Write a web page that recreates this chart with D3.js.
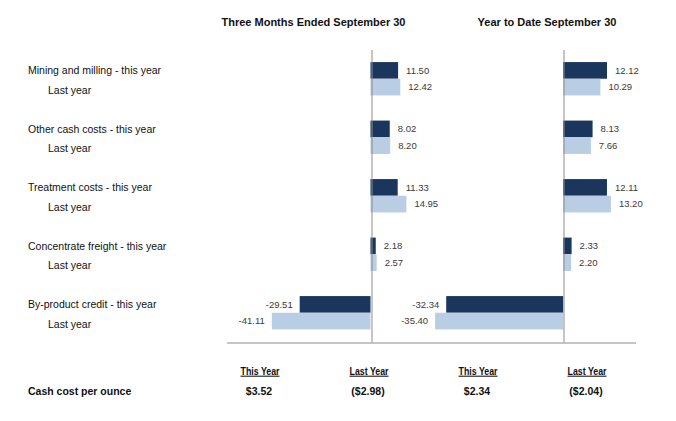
<!DOCTYPE html>
<html>
<head>
<meta charset="utf-8">
<script src="https://cdn.jsdelivr.net/npm/d3@7"></script>
<style>
  html, body { margin: 0; padding: 0; background: #ffffff; }
  svg { display: block; font-family: "Liberation Sans", Arial, sans-serif; }
</style>
</head>
<body>
<div id="chart"></div>
<script>
// Cash cost per ounce breakdown, two side-by-side bar panels

// Data
const categories = ["Mining and milling", "Other cash costs", "Treatment costs", "Concentrate freight", "By-product credit"]
const qtrThisYear = [11.50, 8.02, 11.33, 2.18, -29.51]
const qtrLastYear = [12.42, 8.20, 14.95, 2.57, -41.11]
const ytdThisYear = [12.12, 8.13, 12.11, 2.33, -32.34]
const ytdLastYear = [10.29, 7.66, 13.20, 2.20, -35.40]
const panelTitles = ["Three Months Ended September 30", "Year to Date September 30"]
const summaryHeaders = ["This Year", "Last Year", "This Year", "Last Year"]
const summaryValues = ["$3.52", "($2.98)", "$2.34", "($2.04)"]
const summaryLabel = "Cash cost per ounce"

// Configuration
const CONFIG = {
  width: 676,
  height: 421,
  plotTop: 49.5,
  plotBottom: 342,
  colors: {
    thisYear: "#1b365d",
    lastYear: "#b9cde5",
    axis: "#8c8c8c",
    text: "#111111",
    value: "#3a3a3a"
  }
}

const svg = d3.select("#chart")
  .append("svg")
  .attr("width", CONFIG.width)
  .attr("height", CONFIG.height)

// Shared category scale
const yScale = d3.scaleBand()
  .domain(categories)
  .range([CONFIG.plotTop, CONFIG.plotBottom])
  .paddingInner(0.43)
  .paddingOuter(0.215)

const subScale = d3.scaleBand()
  .domain(["this", "last"])
  .range([0, yScale.bandwidth()])

// Panels: each has its own value scale
const panels = [
  { title: panelTitles[0], thisYear: qtrThisYear, lastYear: qtrLastYear,
    x: d3.scaleLinear().domain([-60, 20]).range([226.5, 418.5]), titleX: 313.5 },
  { title: panelTitles[1], thisYear: ytdThisYear, lastYear: ytdLastYear,
    x: d3.scaleLinear().domain([-40, 20]).range([418.5, 635.5]), titleX: 547 }
]

// plain hyphen for negatives, as in the source
const fmt = d3.formatLocale({ decimal: ".", thousands: ",", grouping: [3], currency: ["$", ""], minus: "-" }).format(".2f")

panels.forEach(p => {
  const g = svg.append("g")
  const rows = categories.flatMap((c, i) => [
    { cat: c, key: "this", value: p.thisYear[i] },
    { cat: c, key: "last", value: p.lastYear[i] }
  ])

  // Bars
  g.selectAll("rect")
    .data(rows)
    .join("rect")
    .attr("x", d => p.x(Math.min(0, d.value)))
    .attr("y", d => yScale(d.cat) + subScale(d.key))
    .attr("width", d => Math.abs(p.x(d.value) - p.x(0)))
    .attr("height", subScale.bandwidth())
    .attr("fill", d => d.key === "this" ? CONFIG.colors.thisYear : CONFIG.colors.lastYear)

  // Value labels
  g.selectAll("text.value")
    .data(rows)
    .join("text")
    .attr("class", "value")
    .attr("x", d => d.value >= 0 ? p.x(d.value) + 8 : p.x(d.value) - 7)
    .attr("y", d => yScale(d.cat) + subScale(d.key) + subScale.bandwidth() / 2)
    .attr("dy", "0.35em")
    .attr("text-anchor", d => d.value >= 0 ? "start" : "end")
    .attr("fill", CONFIG.colors.value)
    .style("font-size", "9.5px")
    .text(d => fmt(d.value))

  // Category axis line at zero
  const yAxis = g.append("g")
    .attr("transform", `translate(${Math.round(p.x(0)) + 0.5},0)`)
    .call(d3.axisLeft(yScale).tickSize(0).tickFormat(""))
  yAxis.select(".domain").attr("stroke", CONFIG.colors.axis)

  // Value axis line at the bottom, no ticks
  const xAxis = g.append("g")
    .attr("transform", `translate(0,${CONFIG.plotBottom + 0.5})`)
    .call(d3.axisBottom(p.x).ticks(0).tickSizeOuter(0).tickFormat(""))
  xAxis.select(".domain").attr("stroke", CONFIG.colors.axis)

  // Panel title
  svg.append("text")
    .attr("x", p.titleX)
    .attr("y", 22)
    .attr("dy", "0.35em")
    .attr("text-anchor", "middle")
    .attr("fill", CONFIG.colors.text)
    .style("font-size", "11px")
    .style("font-weight", "bold")
    .text(p.title)
})

// Category labels on the left
const labelG = svg.append("g")
categories.forEach(c => {
  labelG.append("text")
    .attr("x", 28)
    .attr("y", yScale(c) + 8.5)
    .attr("dy", "0.35em")
    .attr("fill", CONFIG.colors.text)
    .style("font-size", "10.5px")
    .text(`${c} - this year`)
  labelG.append("text")
    .attr("x", 48)
    .attr("y", yScale(c) + 28)
    .attr("dy", "0.35em")
    .attr("fill", CONFIG.colors.text)
    .style("font-size", "10.5px")
    .text("Last year")
})

// Summary table under the chart (narrow headers, like the source)
const summaryX = [260, 369, 478, 587]
summaryHeaders.forEach((h, i) => {
  svg.append("text")
    .attr("x", summaryX[i])
    .attr("y", 371)
    .attr("dy", "0.35em")
    .attr("text-anchor", "middle")
    .attr("textLength", 39)
    .attr("lengthAdjust", "spacingAndGlyphs")
    .attr("fill", CONFIG.colors.text)
    .style("font-size", "10.5px")
    .style("font-weight", "bold")
    .style("text-decoration", "underline")
    .text(h)
  svg.append("text")
    .attr("x", summaryX[i] - 1)
    .attr("y", 391)
    .attr("dy", "0.35em")
    .attr("text-anchor", "middle")
    .attr("fill", CONFIG.colors.text)
    .style("font-size", "10.5px")
    .style("font-weight", "bold")
    .text(summaryValues[i])
})

svg.append("text")
  .attr("x", 28)
  .attr("y", 391)
  .attr("dy", "0.35em")
  .attr("fill", CONFIG.colors.text)
  .style("font-size", "10.5px")
  .style("font-weight", "bold")
  .text(summaryLabel)
</script>
</body>
</html>
